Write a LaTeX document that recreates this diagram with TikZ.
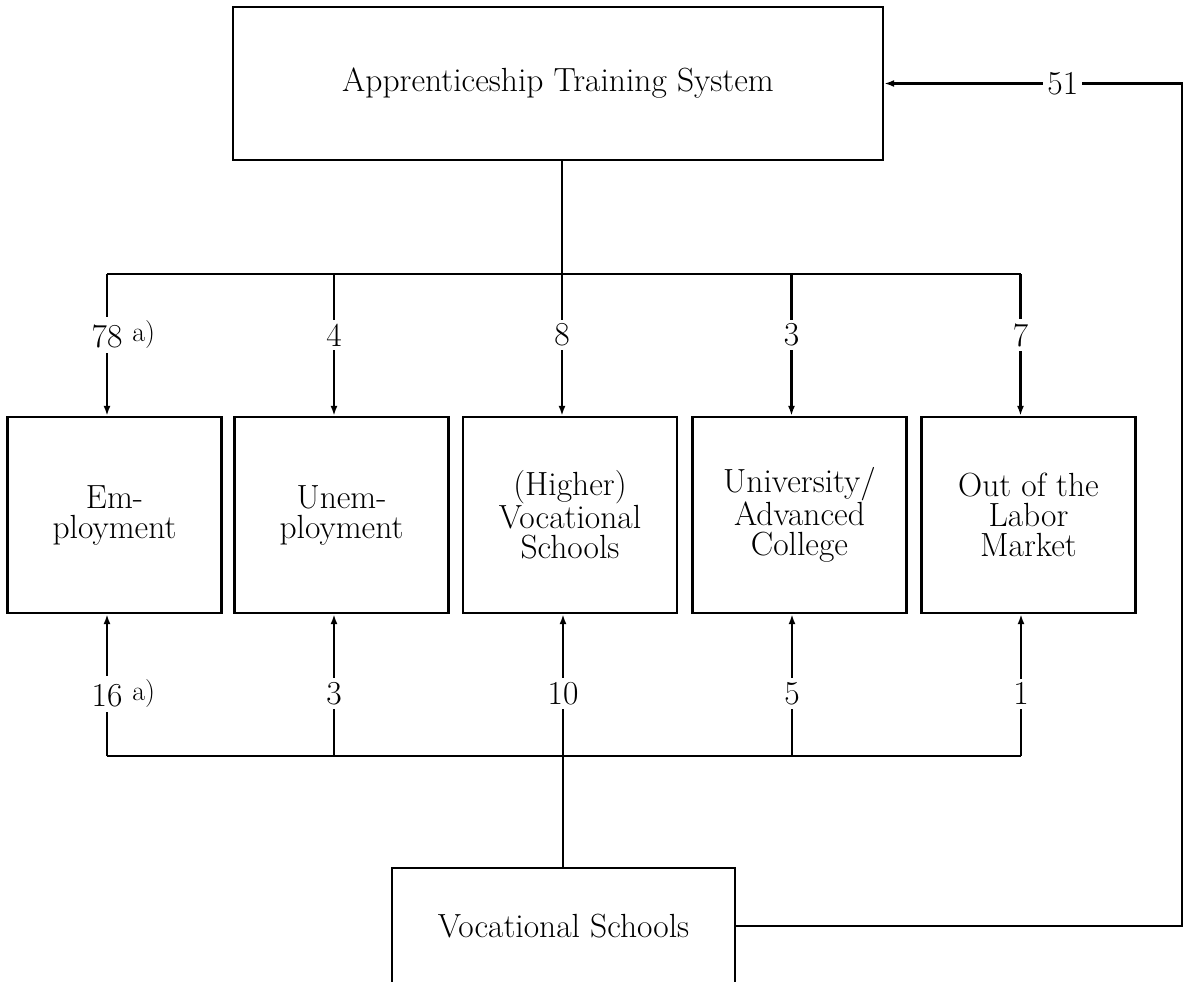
\documentclass[tikz,border=0pt]{standalone}
\usetikzlibrary{arrows.meta}
\newcommand\bigfont{\fontsize{33.5}{30}\selectfont}
\newcommand\anote{\rlap{\hspace{10pt}\raisebox{6pt}{\fontsize{28}{28}\selectfont a)}}}
\tikzset{
  box/.style={draw, line width=2.3pt, align=center, inner sep=0pt, font=\bigfont},
  midbox/.style={box, minimum width=214pt, minimum height=196pt},
  conn/.style={line width=2.1pt},
  arr/.style={conn, -{Latex[length=10pt,width=7pt]}},
  lab/.style={fill=white, inner xsep=2pt, inner ysep=4pt, font=\bigfont},
}
\begin{document}
\begin{tikzpicture}[x=1pt,y=-1pt]
  \useasboundingbox (0,0) rectangle (1183,982);
  \fill[white] (0,0) rectangle (1183,982);
  \clip (0,0) rectangle (1183,982);

  % boxes
  \node[box, minimum width=650pt, minimum height=153pt] (ats) at (558,83.5) {Apprenticeship Training System};
  \node[midbox] (emp) at (114.5,515) {Em-\\ployment};
  \node[midbox] (une) at (341.5,515) {Unem-\\ployment};
  \node[midbox] (hig) at (570,515) {(Higher)\\Vocational\\Schools};
  \node[midbox] (uni) at (799.5,515) {University/\\Advanced\\College};
  \node[midbox] (out) at (1028.5,515) {Out of the\\Labor\\Market};
  \node[box, minimum width=343pt, minimum height=116pt] (voc) at (563.5,926) {Vocational Schools};

  % top distribution
  \coordinate (jt) at (562,274);
  \coordinate (t1) at (107,274);
  \coordinate (t2) at (334,274);
  \coordinate (t4) at (791.5,274);
  \coordinate (t5) at (1020.5,274);
  \draw[conn] (jt |- ats.south) -- (jt);
  \draw[conn] (t1) -- (t5);
  \draw[arr] (t1) -- (t1 |- emp.north) node[lab, pos=.43] {78\anote};
  \draw[arr] (t2) -- (t2 |- une.north) node[lab, pos=.43] {4};
  \draw[arr] (jt) -- (jt |- hig.north) node[lab, pos=.43] {8};
  \draw[arr] (t4) -- (t4 |- uni.north) node[lab, pos=.43] {3};
  \draw[arr] (t5) -- (t5 |- out.north) node[lab, pos=.43] {7};

  % bottom distribution
  \coordinate (jb) at (563,756);
  \coordinate (b1) at (107,756);
  \coordinate (b2) at (334,756);
  \coordinate (b4) at (792,756);
  \coordinate (b5) at (1021,756);
  \draw[conn] (jb |- voc.north) -- (jb);
  \draw[conn] (b1) -- (b5);
  \draw[arr] (b1) -- (b1 |- emp.south) node[lab, pos=.44] {16\anote};
  \draw[arr] (b2) -- (b2 |- une.south) node[lab, pos=.44] {3};
  \draw[arr] (jb) -- (jb |- hig.south) node[lab, pos=.44] {10};
  \draw[arr] (b4) -- (b4 |- uni.south) node[lab, pos=.44] {5};
  \draw[arr] (b5) -- (b5 |- out.south) node[lab, pos=.44] {1};

  % return flow
  \coordinate (rx) at (1182,0);
  \draw[arr] (voc.east) -- (voc.east -| rx) -- (rx |- ats.east)
    -- node[lab, inner ysep=1pt, inner xsep=4pt, pos=.4] {51} (ats.east);
\end{tikzpicture}
\end{document}
